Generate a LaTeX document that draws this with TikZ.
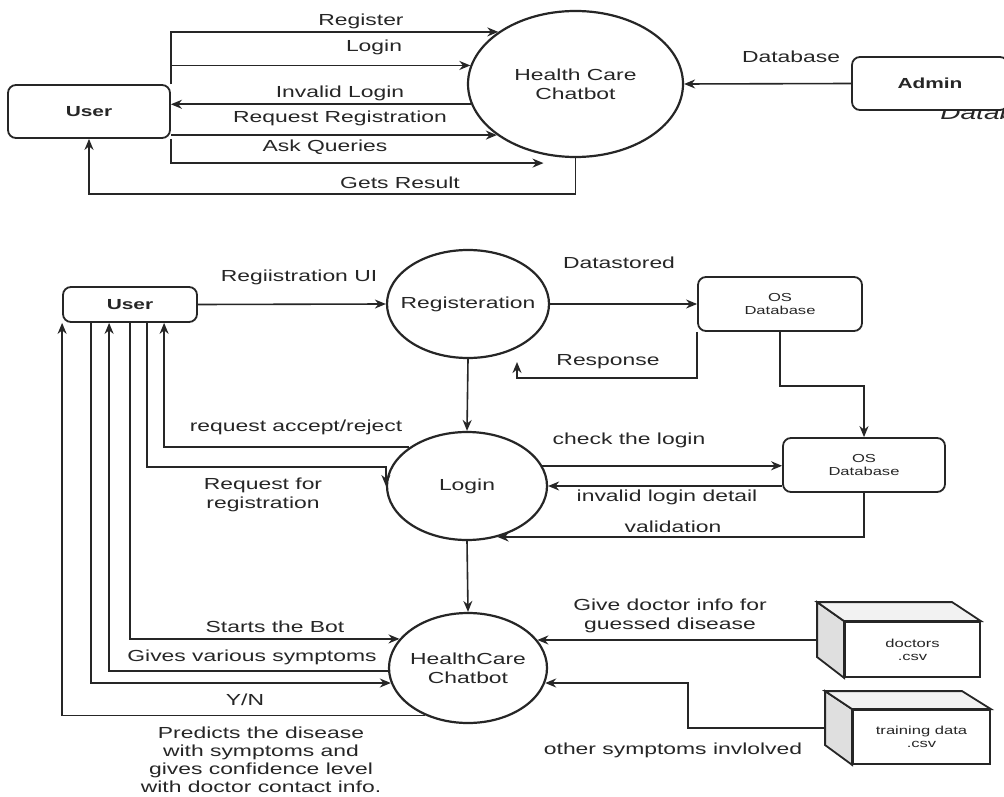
\documentclass[tikz,border=0pt]{standalone}
\usepackage{fontspec}
\setmainfont{Liberation Sans}[FakeStretch=1.43]
\usetikzlibrary{positioning}
\usetikzlibrary{shapes.geometric}
\usetikzlibrary{arrows.meta}

\begin{document}
\begin{tikzpicture}[x=0.5pt, y=-0.5pt, font=\fontsize{8}{9.5}\selectfont, text=black!85,
			arr/.style={draw=black!85, line width=0.8pt, -{Stealth[length=5.5pt,width=4.5pt]}},
			proc/.style={draw=black!85, ellipse, line width=1.1pt, align=center, inner xsep=-8pt, inner ysep=0pt},
			ent/.style={draw=black!85, rounded corners=4pt, line width=0.9pt, fill=white, align=center, inner sep=0pt},
			bold/.style={font=\fontsize{7.3}{8}\selectfont\bfseries},
			tiny/.style={font=\fontsize{5.8}{6.5}\selectfont},
			store/.style={draw=black!85, line width=0.9pt, fill=white, align=center, inner sep=0pt, tiny},
			face/.style={draw=black!85, line width=0.9pt},
			lbl/.style={align=center, inner sep=0pt}]
			\fill[white] (0,0) rectangle (1004,796);
			\useasboundingbox (0,0) rectangle (1004,796);
			% context level
			\node[lbl, anchor=base west, font=\fontsize{9.8}{10}\selectfont\itshape](datatail) at (940,120){Database};
			\node[ent, bold, minimum width=78pt, minimum height=26.5pt](admin) at (930,83.5){Admin};
			\node[ent, bold, minimum width=81pt, minimum height=26.5pt](topuser) at (89,111.5){User};
			\node[proc, minimum width=107.5pt, minimum height=73pt](topbot) at (575.5,84){Health Care\\Chatbot};
			\node[lbl](lregister) at (361,21){Register};
			\node[lbl](llogin) at (374,47){Login};
			\node[lbl](linvalid) at (340,93){Invalid Login};
			\node[lbl](lrequest) at (340,118){Request Registration};
			\node[lbl](lask) at (325,147){Ask Queries};
			\node[lbl](lresult) at (400,183){Gets Result};
			\node[lbl](ldatabase) at (791,57){Database};
			\path[arr] (topuser.north east) |- (topbot.146.4);
			\path[arr] (topuser.north east) |- (topbot.170.8);
			\path[arr] (topbot.191.5) -- (topbot.191.5 -| topuser.east);
			\path[arr] (topbot.213.6 -| topuser.east) -- (topbot.213.6);
			\path[arr] (topuser.south east) |- ([xshift=-16pt,yshift=-2.5pt]topbot.south);
			\path[arr] (topbot.south) -- ++(0,36) -| (topuser.south);
			\path[arr] (admin.west) -- (topbot.east);
			% level 1
			\node[ent, bold, minimum width=67pt, minimum height=17.5pt](user) at (130,304.5){User};
			\node[proc, minimum width=81pt, minimum height=54pt](registeration) at (468,304){Registeration};
			\node[proc, minimum width=80pt, minimum height=54pt](login) at (467,486){Login};
			\node[proc, minimum width=79pt, minimum height=55pt](chatbot) at (468,668){HealthCare\\Chatbot};
			\node[ent, tiny, minimum width=82pt, minimum height=27pt](osdb) at (780,304){OS\\Database};
			\node[ent, tiny, minimum width=81pt, minimum height=27pt](osdbb) at (864,465){OS\\Database};
			\node[store, minimum width=67.5pt, minimum height=27.5pt](doctors) at (912.5,649.5){doctors\\.csv};
			\node[store, minimum width=68.5pt, minimum height=27pt](training) at (921.5,737){training data\\.csv};
			\path[face, fill=gray!25] (doctors.north west) -- ++(-27,-19) -- ++(0,55) -- (doctors.south west) -- cycle;
			\path[face, fill=gray!10] (doctors.north west) -- ++(-27,-19) -- ++(135,0) -- (doctors.north east) -- cycle;
			\path[face, fill=gray!25] (training.north west) -- ++(-27,-18) -- ++(0,54) -- (training.south west) -- cycle;
			\path[face, fill=gray!10] (training.north west) -- ++(-27,-18) -- ++(137,0) -- (training.north east) -- cycle;
			\coordinate (resp) at (517,362);
			\coordinate (docside) at ([xshift=-13.5pt]doctors.north west);
			\node[lbl](lui) at (299,277){Regiistration UI};
			\node[lbl](lstored) at (619,263){Datastored};
			\node[lbl](lresponse) at (608,362){Response};
			\node[lbl](laccept) at (296,427){request accept/reject};
			\node[lbl](lforreg) at (263,495){Request for\\registration};
			\node[lbl](lcheck) at (629,440){check the login};
			\node[lbl](ldetail) at (667,497){invalid login detail};
			\node[lbl](lvalid) at (673,527){validation};
			\node[lbl](lstart) at (275,627){Starts the Bot};
			\node[lbl](lsymptoms) at (252,657){Gives various symptoms};
			\node[lbl](lyn) at (245,700){Y/N};
			\node[lbl, font=\fontsize{8}{9}\selectfont](lpredict) at (261,760){Predicts the disease\\with symptoms and\\gives confidence level\\with doctor contact info.};
			\node[lbl](ldoctor) at (670,616){Give doctor info for\\guessed disease};
			\node[lbl](lother) at (673,750){other symptoms invlolved};
			\path[arr] (user.east) -- (registeration.west);
			\path[arr] (registeration.east) -- (osdb.west);
			\path[arr] (osdb.south west) -- ++(0,46) -| (resp);
			\path[arr] (osdb.south) -- ++(0,54) -| (osdbb.north);
			\path[arr] (registeration.south) -- (login.north);
			\path[arr] (login.south) -- (chatbot.north);
			\path[arr] (login.15.9) -- (login.15.9 -| osdbb.west);
			\path[arr] (osdbb.west |- login.east) -- (login.east);
			\path[arr] (osdbb.south) |- (login.301);
			\path[arr] (login.146.2) -| ([xshift=51pt]user.south west);
			\path[arr] ([xshift=42.5pt]user.south west) |- ([yshift=9.5pt]login.west) -- (login.west);
			\path[arr] (user.south) |- (chatbot.157.6);
			\path[arr] (chatbot.182.9) -| ([xshift=23.5pt]user.south west);
			\path[arr] ([xshift=14.5pt]user.south west) |- (chatbot.191.1);
			\path[arr] (chatbot.228.9) -| (user.south west);
			\path[arr] (chatbot.22.4 -| docside) -- (chatbot.22.4);
			\path[arr] ([xshift=-13.5pt,yshift=4.5pt]training.west) -- ++(-137,0) |- (chatbot.349.6);
\end{tikzpicture}
\end{document}
